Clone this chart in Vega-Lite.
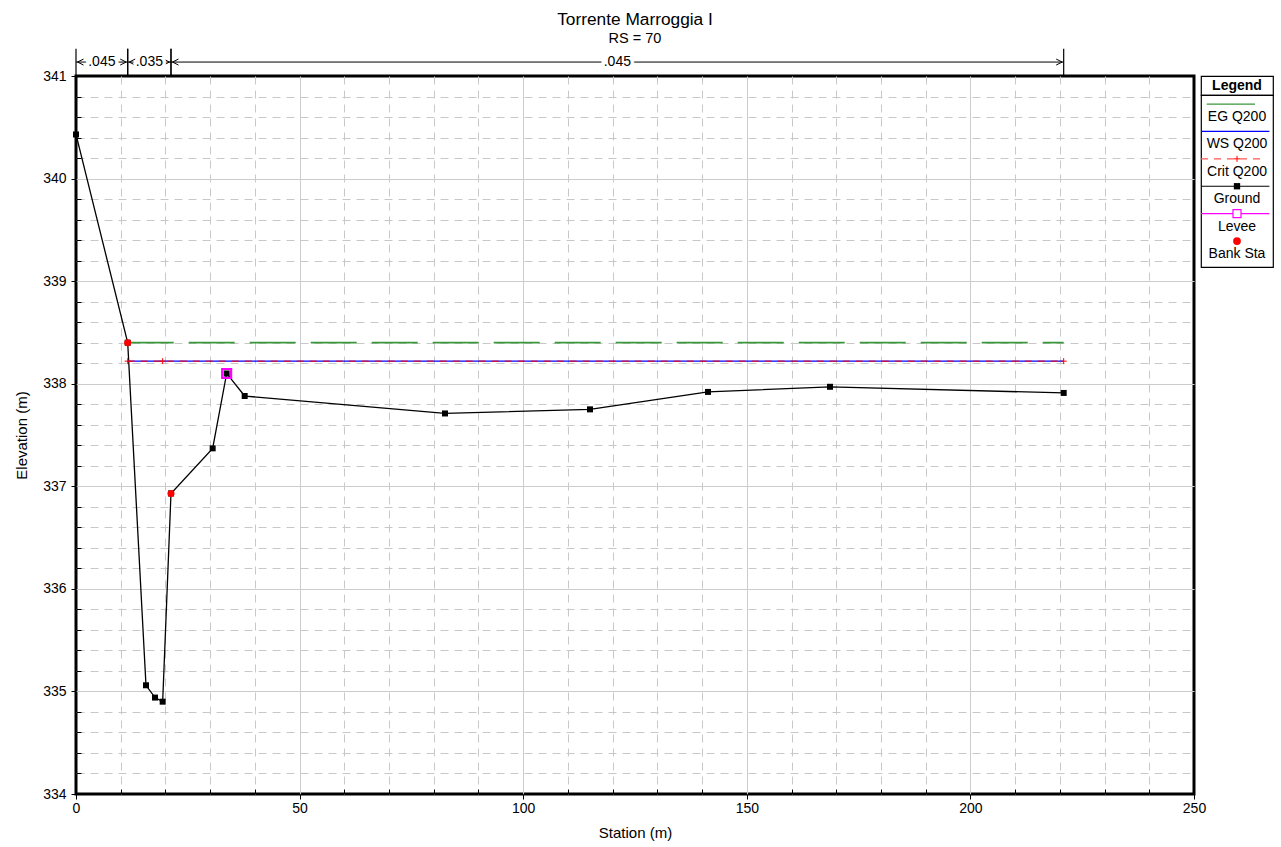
{
  "$schema": "https://vega.github.io/schema/vega-lite/v6.json",
  "background": "white",
  "padding": {"left": 13, "top": 9, "right": 5, "bottom": 5},
  "bounds": "flush",
  "spacing": 7,
  "datasets": {
    "ground": [
      {"station": 0, "elevation": 340.43},
      {"station": 11.56, "elevation": 338.40},
      {"station": 15.65, "elevation": 335.06},
      {"station": 17.67, "elevation": 334.94},
      {"station": 19.38, "elevation": 334.90},
      {"station": 21.24, "elevation": 336.93},
      {"station": 30.56, "elevation": 337.37},
      {"station": 33.69, "elevation": 338.10},
      {"station": 37.72, "elevation": 337.88},
      {"station": 82.51, "elevation": 337.71},
      {"station": 114.94, "elevation": 337.75},
      {"station": 141.32, "elevation": 337.92},
      {"station": 168.6, "elevation": 337.97},
      {"station": 220.86, "elevation": 337.91}
    ],
    "eg": [
      {"station": 11.56, "elevation": 338.40},
      {"station": 220.86, "elevation": 338.40}
    ],
    "ws": [
      {"station": 11.56, "elevation": 338.22},
      {"station": 220.86, "elevation": 338.22}
    ],
    "crit": [
      {"station": 11.56, "elevation": 338.22},
      {"station": 19.38, "elevation": 338.22},
      {"station": 220.86, "elevation": 338.22}
    ],
    "bank": [
      {"station": 11.56, "elevation": 338.40},
      {"station": 21.24, "elevation": 336.93}
    ],
    "levee": [
      {"station": 33.69, "elevation": 338.10}
    ],
    "manning": [
      {"seg": 1, "from": 0, "to": 11.56, "n": ".045"},
      {"seg": 2, "from": 11.56, "to": 21.24, "n": ".035"},
      {"seg": 3, "from": 21.24, "to": 220.86, "n": ".045"}
    ],
    "legend": [
      {"item": "EG Q200"},
      {"item": "WS Q200"},
      {"item": "Crit Q200"},
      {"item": "Ground"},
      {"item": "Levee"},
      {"item": "Bank Sta"}
    ]
  },
  "hconcat": [
    {
      "width": 1118,
      "height": 718,
      "view": {"stroke": "black", "strokeWidth": 3},
      "title": {
        "text": "Torrente Marroggia I",
        "subtitle": "RS = 70",
        "anchor": "middle",
        "fontSize": 17.3,
        "subtitleFontSize": 14.5,
        "fontWeight": "normal",
        "font": "Liberation Sans",
        "subtitleFont": "Liberation Sans",
        "color": "black",
        "subtitleColor": "black",
        "offset": 3,
        "subtitlePadding": 3
      },
      "resolve": {"axis": {"x": "independent", "y": "independent"}},
      "layer": [
        {
          "data": {"name": "ground"},
          "mark": {"type": "line", "color": "black", "strokeWidth": 1.3},
          "encoding": {
            "x": {
              "field": "station", "type": "quantitative",
              "scale": {"domain": [0, 250], "nice": false, "zero": false},
              "axis": {
                "orient": "bottom",
                "title": "Station (m)",
                "values": [0, 50, 100, 150, 200, 250],
                "grid": true,
                "gridColor": "#cccccc",
                "gridWidth": 1,
                "gridOpacity": {"condition": {"test": "datum.value === 0 || datum.value === 250", "value": 0}, "value": 1},
                "tickSize": 5,
                "tickColor": "black",
                "tickWidth": 1,
                "domain": false,
                "labelFontSize": 14,
                "labelColor": "black",
                "labelPadding": 2,
                "labelFlush": false,
                "labelOverlap": false,
                "titleFontSize": 15,
                "titleFontWeight": "normal",
                "titleColor": "black",
                "titlePadding": 10
              }
            },
            "y": {
              "field": "elevation", "type": "quantitative",
              "scale": {"domain": [334, 341], "nice": false, "zero": false},
              "axis": {
                "orient": "left",
                "title": "Elevation (m)",
                "values": [334, 335, 336, 337, 338, 339, 340, 341],
                "format": "d",
                "grid": true,
                "gridColor": "#cccccc",
                "gridWidth": 1,
                "gridOpacity": {"condition": {"test": "datum.value === 334 || datum.value === 341", "value": 0}, "value": 1},
                "tickSize": 5,
                "tickColor": "black",
                "tickWidth": 1,
                "domain": false,
                "labelFontSize": 14,
                "labelColor": "black",
                "labelPadding": 5,
                "labelFlush": false,
                "labelOverlap": false,
                "titleFontSize": 15,
                "titleFontWeight": "normal",
                "titleColor": "black",
                "titlePadding": 13
              }
            }
          }
        },
        {
          "data": {"name": "ground"},
          "mark": {"type": "point", "shape": "square", "size": 36, "filled": true, "color": "black", "opacity": 0},
          "encoding": {
            "x": {
              "field": "station", "type": "quantitative",
              "axis": {
                "orient": "bottom",
                "title": null,
                "values": [10, 20, 30, 40, 60, 70, 80, 90, 110, 120, 130, 140, 160, 170, 180, 190, 210, 220, 230, 240],
                "labels": false,
                "grid": true,
                "gridColor": "#c8c8c8",
                "gridDash": [8, 6],
                "tickSize": -5,
                "tickColor": "black",
                "tickWidth": 1,
                "domain": false
              }
            },
            "y": {
              "field": "elevation", "type": "quantitative",
              "axis": {
                "orient": "left",
                "title": null,
                "values": [334.2, 334.4, 334.6, 334.8, 335.2, 335.4, 335.6, 335.8, 336.2, 336.4, 336.6, 336.8, 337.2, 337.4, 337.6, 337.8, 338.2, 338.4, 338.6, 338.8, 339.2, 339.4, 339.6, 339.8, 340.2, 340.4, 340.6, 340.8],
                "labels": false,
                "grid": true,
                "gridColor": "#c8c8c8",
                "gridDash": [8, 6],
                "tickSize": -5,
                "tickColor": "black",
                "tickWidth": 1,
                "domain": false
              }
            }
          }
        },
        {
          "data": {"name": "eg"},
          "mark": {"type": "line", "color": "#3a963a", "strokeWidth": 1.8, "strokeDash": [46, 15]},
          "encoding": {
            "x": {"field": "station", "type": "quantitative", "axis": null},
            "y": {"field": "elevation", "type": "quantitative", "axis": null}
          }
        },
        {
          "data": {"name": "ws"},
          "mark": {"type": "line", "color": "#0000ff", "strokeWidth": 1.2},
          "encoding": {
            "x": {"field": "station", "type": "quantitative", "axis": null},
            "y": {"field": "elevation", "type": "quantitative", "axis": null}
          }
        },
        {
          "data": {"name": "crit"},
          "mark": {"type": "line", "color": "#ff0000", "strokeWidth": 1, "strokeDash": [7, 6]},
          "encoding": {
            "x": {"field": "station", "type": "quantitative", "axis": null},
            "y": {"field": "elevation", "type": "quantitative", "axis": null}
          }
        },
        {
          "data": {"name": "crit"},
          "mark": {"type": "point", "shape": "M -1 0 L 1 0 M 0 -1 L 0 1", "size": 36, "filled": false, "stroke": "#ff0000", "strokeWidth": 1, "opacity": 1},
          "encoding": {
            "x": {"field": "station", "type": "quantitative", "axis": null},
            "y": {"field": "elevation", "type": "quantitative", "axis": null}
          }
        },
        {
          "data": {"name": "levee"},
          "mark": {"type": "point", "shape": "square", "size": 80, "filled": false, "stroke": "#ff00ff", "strokeWidth": 2.2, "opacity": 1},
          "encoding": {
            "x": {"field": "station", "type": "quantitative", "axis": null},
            "y": {"field": "elevation", "type": "quantitative", "axis": null}
          }
        },
        {
          "data": {"name": "ground"},
          "mark": {"type": "point", "shape": "square", "size": 36, "filled": true, "color": "black", "opacity": 1},
          "encoding": {
            "x": {"field": "station", "type": "quantitative", "axis": null},
            "y": {"field": "elevation", "type": "quantitative", "axis": null}
          }
        },
        {
          "data": {"name": "bank"},
          "mark": {"type": "point", "shape": "circle", "size": 50, "filled": true, "color": "#ff0000", "opacity": 1},
          "encoding": {
            "x": {"field": "station", "type": "quantitative", "axis": null},
            "y": {"field": "elevation", "type": "quantitative", "axis": null}
          }
        },
        {
          "data": {"name": "manning"},
          "mark": {"type": "rule", "color": "black", "strokeWidth": 1.2},
          "encoding": {
            "x": {"field": "from", "type": "quantitative", "axis": null},
            "y": {"datum": 341, "axis": null},
            "y2": {"datum": 341.266}
          }
        },
        {
          "data": {"name": "manning"},
          "mark": {"type": "rule", "color": "black", "strokeWidth": 1.2},
          "encoding": {
            "x": {"field": "to", "type": "quantitative", "axis": null},
            "y": {"datum": 341, "axis": null},
            "y2": {"datum": 341.266}
          }
        },
        {
          "data": {"name": "manning"},
          "mark": {"type": "rule", "color": "black", "strokeWidth": 1},
          "encoding": {
            "x": {"field": "from", "type": "quantitative", "axis": null},
            "x2": {"field": "to"},
            "y": {"datum": 341.136, "axis": null}
          }
        },
        {
          "data": {"name": "manning"},
          "mark": {"type": "point", "shape": "M 2 -1 L 0 0 L 2 1", "size": 36, "filled": false, "stroke": "black", "strokeWidth": 1, "opacity": 1, "xOffset": 1.5},
          "encoding": {
            "x": {"field": "from", "type": "quantitative", "axis": null},
            "y": {"datum": 341.136, "axis": null}
          }
        },
        {
          "data": {"name": "manning"},
          "mark": {"type": "point", "shape": "M -2 -1 L 0 0 L -2 1", "size": 36, "filled": false, "stroke": "black", "strokeWidth": 1, "opacity": 1, "xOffset": -1.5},
          "encoding": {
            "x": {"field": "to", "type": "quantitative", "axis": null},
            "y": {"datum": 341.136, "axis": null}
          }
        },
        {
          "data": {"name": "manning"},
          "transform": [
            {"fold": ["from", "to"], "as": ["k", "v"]},
            {"aggregate": [{"op": "mean", "field": "v", "as": "mid"}], "groupby": ["seg", "n"]}
          ],
          "mark": {"type": "text", "fontSize": 14, "baseline": "middle", "align": "center", "color": "white", "stroke": "white", "strokeWidth": 7},
          "encoding": {
            "x": {"field": "mid", "type": "quantitative", "axis": null},
            "y": {"datum": 341.136, "axis": null},
            "text": {"field": "n"}
          }
        },
        {
          "data": {"name": "manning"},
          "transform": [
            {"fold": ["from", "to"], "as": ["k", "v"]},
            {"aggregate": [{"op": "mean", "field": "v", "as": "mid"}], "groupby": ["seg", "n"]}
          ],
          "mark": {"type": "text", "fontSize": 14, "baseline": "middle", "align": "center", "color": "black"},
          "encoding": {
            "x": {"field": "mid", "type": "quantitative", "axis": null},
            "y": {"datum": 341.136, "axis": null},
            "text": {"field": "n"}
          }
        }
      ]
    },
    {
      "bounds": "flush",
      "spacing": 0,
      "vconcat": [
        {
          "width": 72,
          "height": 19,
          "view": {"stroke": "black", "strokeWidth": 1.2},
          "data": {"values": [{"t": "Legend"}]},
          "mark": {"type": "text", "fontSize": 14, "fontWeight": "bold", "baseline": "middle", "align": "center", "color": "black"},
          "encoding": {"text": {"field": "t"}}
        },
        {
          "width": 72,
          "height": 172,
          "view": {"stroke": "black", "strokeWidth": 1.2},
          "data": {"name": "legend"},
          "layer": [
            {
              "transform": [{"filter": "datum.item === 'EG Q200'"}],
              "mark": {"type": "rule", "color": "#3a963a", "strokeWidth": 1.3, "yOffset": -6},
              "encoding": {
                "x": {"datum": 0.08, "type": "quantitative", "scale": {"domain": [0, 1], "nice": false, "zero": false}, "axis": null},
                "x2": {"datum": 0.75},
                "y": {"field": "item", "type": "nominal", "scale": {"type": "point", "padding": 0.64, "align": 0.43, "domain": ["EG Q200", "WS Q200", "Crit Q200", "Ground", "Levee", "Bank Sta"]}, "axis": null}
              }
            },
            {
              "transform": [{"filter": "datum.item === 'WS Q200'"}],
              "mark": {"type": "rule", "color": "#0000ff", "strokeWidth": 1.2, "yOffset": -6},
              "encoding": {
                "x": {"datum": 0.0, "type": "quantitative"},
                "x2": {"datum": 0.95},
                "y": {"field": "item", "type": "nominal"}
              }
            },
            {
              "transform": [{"filter": "datum.item === 'Crit Q200'"}],
              "mark": {"type": "rule", "color": "#ff5555", "strokeWidth": 1.2, "strokeDash": [7, 6], "yOffset": -6},
              "encoding": {
                "x": {"datum": 0.0, "type": "quantitative"},
                "x2": {"datum": 0.88},
                "y": {"field": "item", "type": "nominal"}
              }
            },
            {
              "transform": [{"filter": "datum.item === 'Crit Q200'"}],
              "mark": {"type": "point", "shape": "M -1 0 L 1 0 M 0 -1 L 0 1", "size": 36, "filled": false, "stroke": "#ff0000", "strokeWidth": 1, "opacity": 1, "yOffset": -6},
              "encoding": {
                "x": {"datum": 0.5, "type": "quantitative"},
                "y": {"field": "item", "type": "nominal"}
              }
            },
            {
              "transform": [{"filter": "datum.item === 'Ground'"}],
              "mark": {"type": "rule", "color": "black", "strokeWidth": 1.2, "yOffset": -6},
              "encoding": {
                "x": {"datum": 0.0, "type": "quantitative"},
                "x2": {"datum": 0.95},
                "y": {"field": "item", "type": "nominal"}
              }
            },
            {
              "transform": [{"filter": "datum.item === 'Ground'"}],
              "mark": {"type": "point", "shape": "square", "size": 40, "filled": true, "color": "black", "opacity": 1, "yOffset": -6},
              "encoding": {
                "x": {"datum": 0.5, "type": "quantitative"},
                "y": {"field": "item", "type": "nominal"}
              }
            },
            {
              "transform": [{"filter": "datum.item === 'Levee'"}],
              "mark": {"type": "rule", "color": "#ff00ff", "strokeWidth": 1.2, "yOffset": -6},
              "encoding": {
                "x": {"datum": 0.0, "type": "quantitative"},
                "x2": {"datum": 0.95},
                "y": {"field": "item", "type": "nominal"}
              }
            },
            {
              "transform": [{"filter": "datum.item === 'Levee'"}],
              "mark": {"type": "point", "shape": "square", "size": 64, "filled": true, "fill": "white", "stroke": "#ff00ff", "strokeWidth": 1.2, "opacity": 1, "yOffset": -6},
              "encoding": {
                "x": {"datum": 0.5, "type": "quantitative"},
                "y": {"field": "item", "type": "nominal"}
              }
            },
            {
              "transform": [{"filter": "datum.item === 'Bank Sta'"}],
              "mark": {"type": "point", "shape": "circle", "size": 60, "filled": true, "color": "#ff0000", "opacity": 1, "yOffset": -6},
              "encoding": {
                "x": {"datum": 0.5, "type": "quantitative"},
                "y": {"field": "item", "type": "nominal"}
              }
            },
            {
              "mark": {"type": "text", "fontSize": 14, "baseline": "middle", "align": "center", "color": "black", "yOffset": 7},
              "encoding": {
                "x": {"datum": 0.5, "type": "quantitative"},
                "y": {"field": "item", "type": "nominal"},
                "text": {"field": "item"}
              }
            }
          ]
        }
      ]
    }
  ],
  "config": {
    "font": "Liberation Sans",
    "view": {"stroke": null},
    "axis": {"labelFont": "Liberation Sans", "titleFont": "Liberation Sans"},
    "text": {"font": "Liberation Sans"},
    "title": {"font": "Liberation Sans", "subtitleFont": "Liberation Sans"}
  }
}
